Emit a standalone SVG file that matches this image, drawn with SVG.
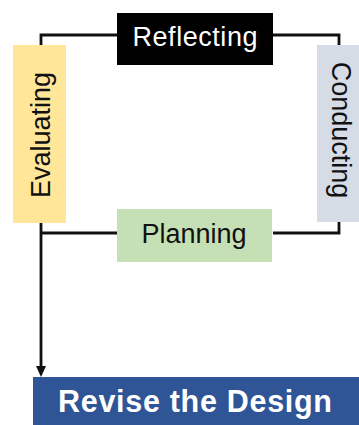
<svg xmlns="http://www.w3.org/2000/svg" width="359" height="425" viewBox="0 0 359 425">
  <style>
    .lbl { font-family: "Liberation Sans", Arial, Helvetica, sans-serif; font-size: 27px; fill: #111; text-anchor: middle; }
    .wire { fill: none; stroke: #111; stroke-width: 2.8; }
  </style>
  <rect width="359" height="425" fill="#fff"/>

  <!-- connectors of the cycle and the exit arrow -->
  <g id="connectors">
    <path class="wire" d="M41,45 V35 H117"/>
    <path class="wire" d="M273,35 H339 V45"/>
    <path class="wire" d="M339,222 V233 H273"/>
    <path class="wire" d="M117,233 H41"/>
    <path class="wire" d="M41,222 V368"/>
    <path d="M36,366 L46,366 L41,377 Z" fill="#111"/>
  </g>

  <g id="reflecting">
    <rect x="117" y="13" width="156" height="52" fill="#000"/>
    <text class="lbl" x="195" y="46" style="fill:#fff" textLength="125">Reflecting</text>
  </g>

  <g id="evaluating">
    <rect x="13" y="45" width="53" height="178" fill="#ffe699"/>
    <text class="lbl" transform="translate(50,135) rotate(-90)" x="0" y="0">Evaluating</text>
  </g>

  <g id="conducting">
    <rect x="317" y="45" width="45" height="177" fill="#d6dce5"/>
    <text class="lbl" transform="translate(332,130) rotate(90)" x="0" y="0">Conducting</text>
  </g>

  <g id="planning">
    <rect x="117" y="209" width="155" height="53" fill="#c5e0b4"/>
    <text class="lbl" x="194" y="243">Planning</text>
  </g>

  <g id="revise">
    <rect x="33" y="377" width="330" height="50" fill="#2f5597"/>
    <text x="195" y="412" text-anchor="middle" font-family="Liberation Sans, Arial, sans-serif" font-weight="bold" font-size="30.5" fill="#fff" textLength="274">Revise the Design</text>
  </g>
</svg>
